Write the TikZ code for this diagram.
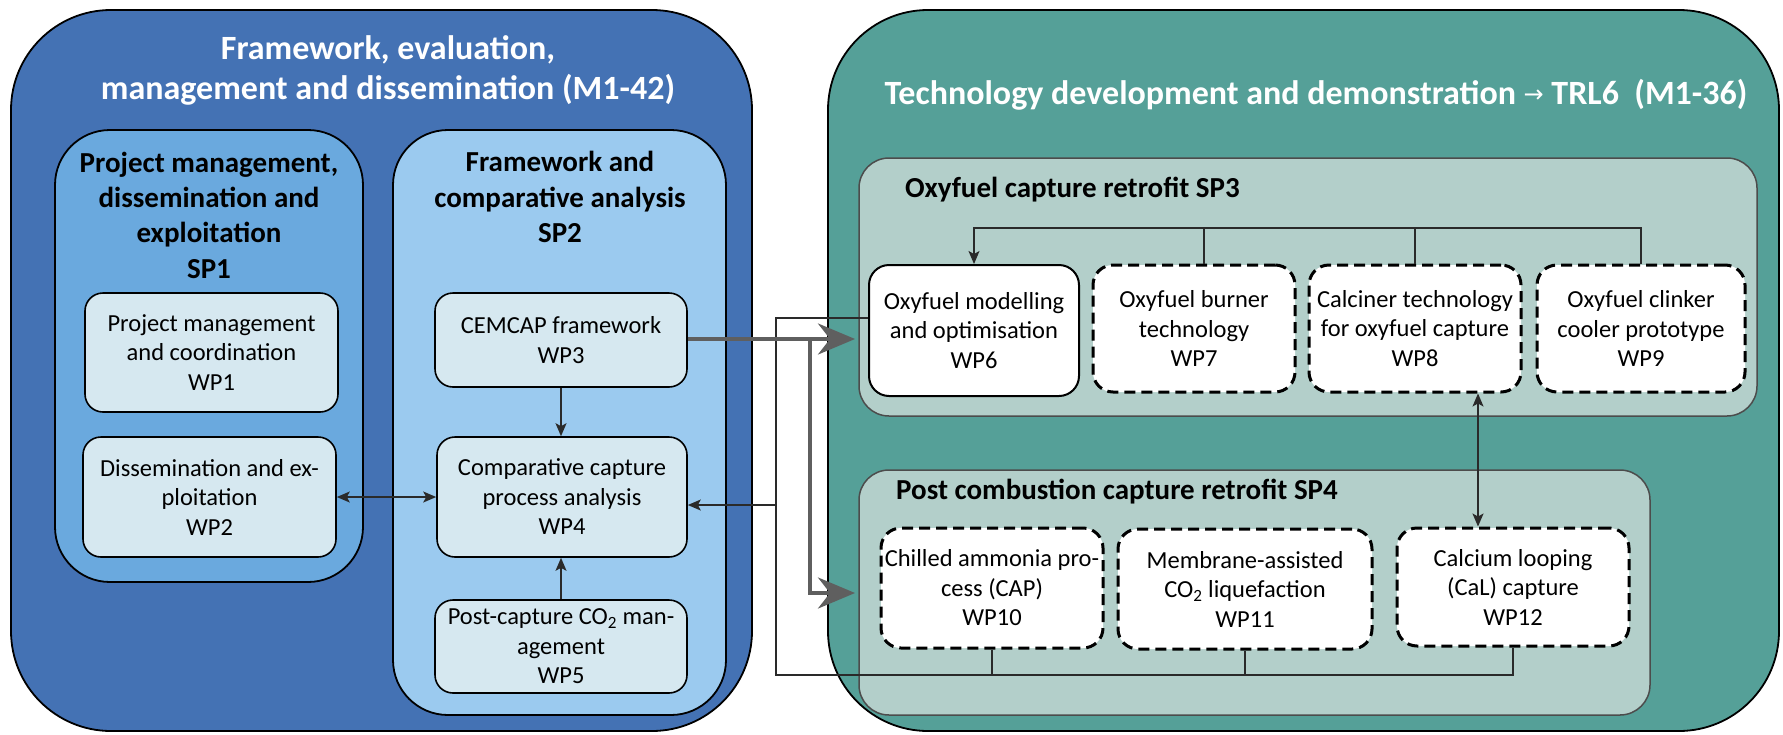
\documentclass[tikz,border=0pt]{standalone}
\usepackage{fontspec}
\setmainfont{Carlito}
\newfontfamily\arrowfont{DejaVu Sans}
\usetikzlibrary{arrows.meta}
\definecolor{blueouter}{HTML}{4472B4}
\definecolor{spone}{HTML}{6AA9DE}
\definecolor{sptwo}{HTML}{9BCAEF}
\definecolor{wpfill}{HTML}{D6E8F0}
\definecolor{tealouter}{HTML}{55A098}
\definecolor{spgreen}{HTML}{B3CFCA}
\definecolor{thinc}{HTML}{2A2A2A}
\definecolor{grayarrow}{HTML}{5F5F5F}
\newcommand\wpfont{\fontsize{24.5pt}{29.5pt}\selectfont}
\newcommand\spfont{\fontsize{29pt}{35.3pt}\selectfont\bfseries}
\newcommand\titfont{\fontsize{34pt}{40pt}\selectfont\bfseries}
\begin{document}
\begin{tikzpicture}[x=1pt,y=-1pt,
  bigbox/.style={draw=black, line width=1.8pt, rounded corners=100pt, inner sep=0pt},
  spbox/.style={draw=black, line width=1.8pt, rounded corners=55pt, inner sep=0pt},
  subbox/.style={draw=black!70, line width=1.5pt, rounded corners=30pt, fill=spgreen, inner sep=0pt},
  wpbox/.style={draw=black, line width=1.6pt, rounded corners=18pt, fill=wpfill, align=center, font=\wpfont, inner sep=0pt},
  wpwhite/.style={draw=black, line width=2pt, rounded corners=20pt, fill=white, align=center, font=\wpfont, inner sep=0pt},
  wpdash/.style={draw=black, line width=3pt, dash pattern=on 11pt off 6pt, rounded corners=20pt, fill=white, align=center, font=\wpfont, inner sep=0pt},
  maintitle/.style={text=white, align=center, font=\titfont, inner sep=0pt},
  sptitle/.style={text=black, align=center, font=\spfont, inner sep=0pt},
  thinl/.style={draw=thinc, line width=1.5pt},
  tipb/.style={-{Stealth[length=13pt,width=11pt,inset=3pt]}},
  tipbb/.style={{Stealth[length=13pt,width=11pt,inset=3pt]}-{Stealth[length=13pt,width=11pt,inset=3pt]}},
  thickg/.style={draw=grayarrow, line width=4pt, -{Stealth[length=37pt,width=31pt,inset=12pt]}}
]
\useasboundingbox (0,0) rectangle (1783,734);

% ---------- left part ----------
\node[bigbox, fill=blueouter, minimum width=741pt, minimum height=721pt] (blue) at (381.5,370.5) {};
\node[maintitle] (t1) at (388,70) {Framework, evaluation,\\management and dissemination (M1-42)};

\node[spbox, fill=spone, minimum width=308pt, minimum height=452pt] (sp1) at (209,356) {};
\node[sptitle] (sp1t) at (209,215) {Project management,\\dissemination and\\exploitation\\SP1};

\node[spbox, fill=sptwo, minimum width=333pt, minimum height=585pt] (sp2) at (559.5,422.5) {};
\node[sptitle] (sp2t) at (560,197) {Framework and\\comparative analysis\\SP2};

\node[wpbox, minimum width=253pt, minimum height=119pt] (wp1) at (211.5,352.5) {Project management\\and coordination\\WP1};
\node[wpbox, minimum width=253pt, minimum height=120pt] (wp2) at (209.5,497) {Dissemination and ex-\\ploitation\\WP2};
\node[wpbox, minimum width=252pt, minimum height=94pt] (wp3) at (561,340) {CEMCAP framework\\WP3};
\node[wpbox, minimum width=250pt, minimum height=120pt] (wp4) at (562,497) {Comparative capture\\process analysis\\WP4};
\node[wpbox, minimum width=252pt, minimum height=93pt] (wp5) at (561,646.5) {Post-capture CO\textsubscript{2} man-\\agement\\WP5};

% ---------- right part ----------
\node[bigbox, fill=tealouter, minimum width=951pt, minimum height=721pt] (teal) at (1303.5,370.5) {};
\node[maintitle] (t2) at (1316,95) {Technology development and demonstration {\arrowfont\fontsize{24pt}{24pt}\selectfont\mdseries\raisebox{2pt}{→}} TRL6\ \ (M1-36)};

\node[subbox, minimum width=898pt, minimum height=258pt] (sp3) at (1308,287) {};
\node[sptitle, anchor=west] (sp3t) at (905,190) {Oxyfuel capture retrofit SP3};

\node[subbox, minimum width=791pt, minimum height=245pt] (sp4) at (1254.5,592.5) {};
\node[sptitle, anchor=west] (sp4t) at (896,492) {Post combustion capture retrofit SP4};

\node[wpwhite, minimum width=210pt, minimum height=131pt] (wp6) at (974,330.5) {Oxyfuel modelling\\and optimisation\\WP6};
\node[wpdash, minimum width=202pt, minimum height=127pt] (wp7) at (1194,328.5) {Oxyfuel burner\\technology\\WP7};
\node[wpdash, minimum width=212pt, minimum height=127pt] (wp8) at (1415,328.5) {Calciner technology\\for oxyfuel capture\\WP8};
\node[wpdash, minimum width=208pt, minimum height=127pt] (wp9) at (1641,328.5) {Oxyfuel clinker\\cooler prototype\\WP9};

\node[wpdash, minimum width=222pt, minimum height=120pt] (wp10) at (992,588) {Chilled ammonia pro-\\cess (CAP)\\WP10};
\node[wpdash, minimum width=254pt, minimum height=120pt] (wp11) at (1245,589) {Membrane-assisted\\CO\textsubscript{2} liquefaction\\WP11};
\node[wpdash, minimum width=232pt, minimum height=118pt] (wp12) at (1513,587) {Calcium looping\\(CaL) capture\\WP12};

% ---------- connectors ----------
\draw[thinl, tipb] (wp3.south) -- (wp3.south |- wp4.north);
\draw[thinl, tipb] (wp5.north) -- (wp5.north |- wp4.south);
\draw[thinl, tipbb] (wp2.east) -- (wp4.west);

% SP3 top bus
\coordinate (bus) at (975,228);
\draw[thinl, tipb] (wp9.north) -- (wp9.north |- bus) -- (bus -| wp6.north) -- (wp6.north);
\draw[thinl] ([xshift=10pt]wp7.north) -- ([xshift=10pt]wp7.north |- bus);
\draw[thinl] (wp8.north) -- (wp8.north |- bus);

% WP8 <-> WP12
\draw[thinl, tipbb] ([xshift=63pt]wp8.south) -- ([xshift=63pt]wp8.south |- wp12.north);

% feedback frame
\coordinate (ftop) at (776,318);
\coordinate (fbot) at (776,675);
\coordinate (fmid) at (776,505);
\draw[thinl] (ftop -| wp6.west) -- (ftop) -- (fbot) -- (fbot -| wp12.south) -- (wp12.south);
\draw[thinl] (wp10.south) -- (wp10.south |- fbot);
\draw[thinl] (wp11.south) -- (wp11.south |- fbot);
\draw[thinl, tipb] (fmid) -- (fmid -| wp4.east);

% thick grey arrows
\coordinate (gsplit) at (810,339);
\coordinate (gtip1) at (855,339);
\coordinate (gcorner) at (810,593);
\coordinate (gtip2) at (855,593);
\draw[thickg] (gsplit -| wp3.east) -- (gtip1);
\draw[thickg] (gsplit) -- (gcorner) -- (gtip2);
\end{tikzpicture}
\end{document}
